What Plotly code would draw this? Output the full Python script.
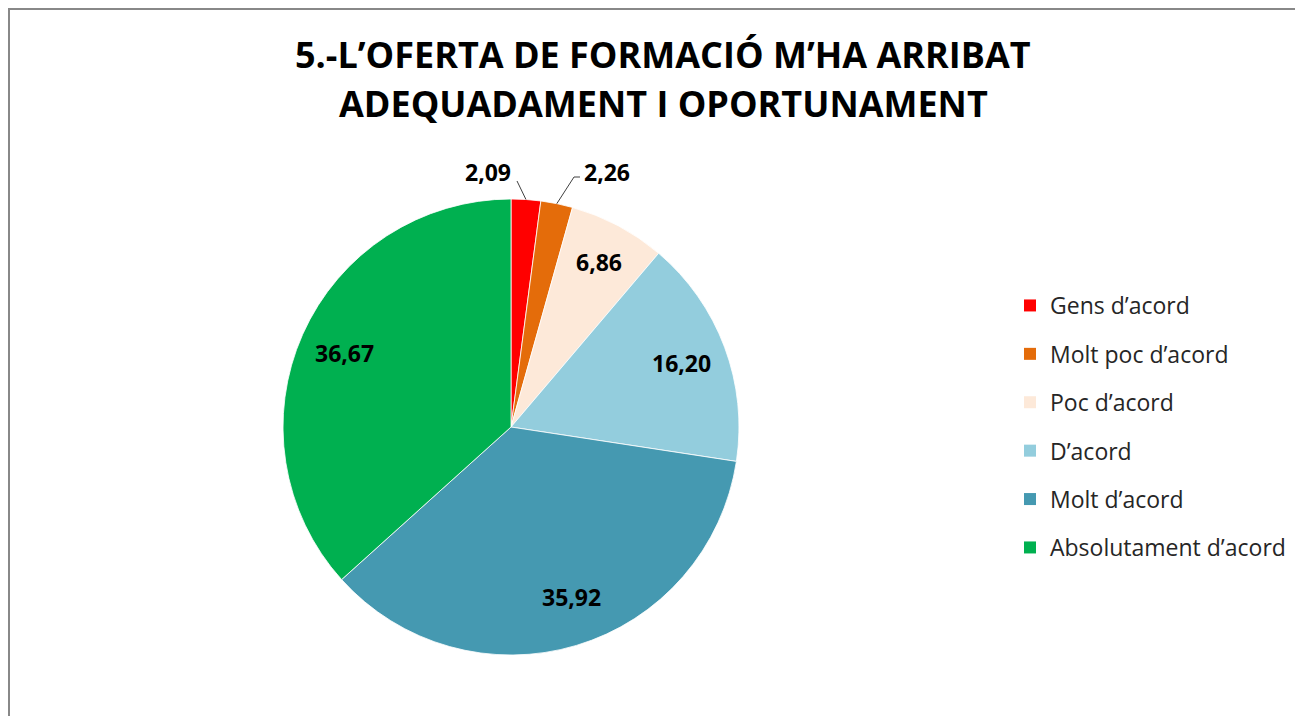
import math
import plotly.graph_objects as go

categories = ["Gens d\u2019acord", "Molt poc d\u2019acord", "Poc d\u2019acord",
              "D\u2019acord", "Molt d\u2019acord", "Absolutament d\u2019acord"]
values = [2.09, 2.26, 6.86, 16.20, 35.92, 36.67]
label_texts = ["2,09", "2,26", "6,86", "16,20", "35,92", "36,67"]
colors = ["#FF0000", "#E46C0A", "#FDE9D9", "#93CDDD", "#4599B1", "#00B050"]
title_lines = ["5.-L\u2019OFERTA DE FORMACI\u00d3 M\u2019HA ARRIBAT",
               "ADEQUADAMENT I OPORTUNAMENT"]

# page body has an 8px margin; figure sized to fit window
OFF = 8
FW, FH = 1295, 708
TFONT = "Open Sans"
LFONT = "Open Sans"
cx, cy, R = 511, 427, 228  # page coords


def px(x):
    return (x - OFF) / FW


def py(y):
    return 1 - (y - OFF) / FH


fig = go.Figure()
fig.add_trace(go.Pie(
    labels=categories, values=values, sort=False, direction="clockwise",
    rotation=0, textinfo="none", hoverinfo="label+value",
    marker=dict(colors=colors, line=dict(color="white", width=0.8)),
    domain=dict(x=[px(cx - R), px(cx + R)], y=[py(cy + R), py(cy - R)]),
    showlegend=False,
))

# legend entries
for i, (c, col) in enumerate(zip(categories, colors)):
    fig.add_trace(go.Scatter(
        x=[None], y=[None], mode="markers", name=c, legendgroup=f"g{i}",
        marker=dict(symbol="square", size=12, color=col),
    ))

total = sum(values)
cum = 0
annotations = []
shapes = []
outside = {0: dict(lab=(513, 172), end=(517, 181), anchor="right"),
           1: dict(lab=(582, 172), end=(574, 177), anchor="left", knee=(580, 177))}
inside_r = {2: 0.82, 3: 0.80, 4: 0.79, 5: 0.80}
inside_shift = {2: 0, 3: 0, 4: -0.05, 5: 0}  # angular nudge (radians)
for i, v in enumerate(values):
    mid = (cum + v / 2) / total * 2 * math.pi
    cum += v
    if i in outside:
        o = outside[i]
        ex = cx + R * math.sin(mid)
        ey = cy - R * math.cos(mid)
        pts = [(ex, ey), o["end"]] + ([o["knee"]] if "knee" in o else [])
        path = "M " + " L ".join(f"{px(a)},{py(b)}" for a, b in pts)
        shapes.append(dict(type="path", xref="paper", yref="paper", path=path,
                           line=dict(color="#404040", width=1)))
        lx, ly = o["lab"]
        annotations.append(dict(x=px(lx), y=py(ly), xref="paper", yref="paper",
                                text=f"<b>{label_texts[i]}</b>", showarrow=False,
                                xanchor=o["anchor"], yanchor="middle",
                                font=dict(family=TFONT, size=23, color="black")))
    else:
        r = inside_r[i] * R
        a = mid + inside_shift[i]
        lx = cx + r * math.sin(a)
        ly = cy - r * math.cos(a)
        annotations.append(dict(x=px(lx), y=py(ly), xref="paper", yref="paper",
                                text=f"<b>{label_texts[i]}</b>", showarrow=False,
                                xanchor="center", yanchor="middle",
                                font=dict(family=TFONT, size=23, color="black")))

# title, two lines
for line, ty in zip(title_lines, [55, 103]):
    annotations.append(dict(x=px(663), y=py(ty), xref="paper", yref="paper",
                            text=f"<b>{line}</b>", showarrow=False,
                            xanchor="center", yanchor="middle",
                            font=dict(family=TFONT, size=36, color="black")))

# chart border (gray frame, extends past right/bottom)
shapes.append(dict(type="rect", xref="paper", yref="paper",
                   x0=px(9), x1=px(1340), y0=py(760), y1=py(9),
                   line=dict(color="#888888", width=2), fillcolor="rgba(0,0,0,0)"))

fig.update_layout(
    width=FW, height=FH, margin=dict(l=0, r=0, t=0, b=0),
    paper_bgcolor="white", plot_bgcolor="white",
    xaxis=dict(visible=False), yaxis=dict(visible=False),
    annotations=annotations, shapes=shapes,
    legend=dict(x=px(1010), y=py(284), xanchor="left", yanchor="top",
                tracegroupgap=15.5, font=dict(family=LFONT, size=23, color="#262626"),
                itemsizing="constant", bgcolor="rgba(0,0,0,0)"),
)

fig.write_html("out.html")
